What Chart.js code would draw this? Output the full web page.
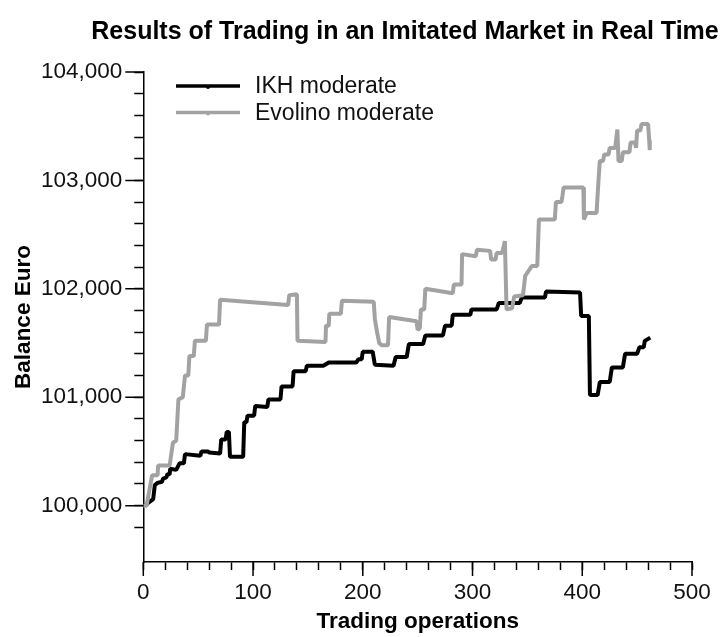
<!DOCTYPE html>
<html>
<head>
<meta charset="utf-8">
<script src="https://cdn.jsdelivr.net/npm/chart.js@4.4.1/dist/chart.umd.min.js"></script>
<style>
  html, body { margin: 0; padding: 0; background: #fff; }
</style>
</head>
<body>
<canvas id="tradingChart" width="724" height="637"></canvas>
<script>
const chartTitle = "Results of Trading in an Imitated Market in Real Time";
const seriesNames = ["IKH moderate", "Evolino moderate"];
const xTickLabels = [0, 100, 200, 300, 400, 500];
const yTickLabels = [100000, 101000, 102000, 103000, 104000];

// IKH moderate: trading operation / balance
const ikhX = [2, 5, 9, 10.5, 13, 17, 18, 21, 22, 24, 24.5, 30, 33, 37, 38, 52, 53, 59, 60, 70,
  71, 75, 76, 78, 79, 91, 92, 94, 95, 101, 102, 113, 114, 125, 126, 136, 137, 148, 149, 164,
  169, 194, 196, 199, 200, 209, 211, 228, 230, 240, 242, 255, 257, 273, 275, 281, 282, 298, 299, 322,
  324, 343, 345, 366, 367, 398, 399, 406, 407, 414, 416, 425, 427, 437, 439, 450, 452, 456, 457, 462];
const ikhY = [100000, 100030, 100060, 100190, 100210, 100220, 100250, 100260, 100290, 100290, 100340, 100330, 100390, 100390, 100475, 100460, 100500, 100500, 100490, 100480,
  100610, 100610, 100680, 100680, 100450, 100450, 100770, 100770, 100830, 100830, 100920, 100910, 100980, 100980, 101100, 101100, 101240, 101240, 101290, 101290,
  101320, 101320, 101350, 101350, 101420, 101420, 101300, 101290, 101370, 101370, 101490, 101490, 101570, 101570, 101660, 101660, 101760, 101760, 101810, 101810,
  101870, 101870, 101920, 101920, 101975, 101965, 101750, 101750, 101020, 101020, 101140, 101140, 101275, 101275, 101400, 101400, 101460, 101460, 101520, 101550];

// Evolino moderate: trading operation / balance
const evoX = [0, 3, 8, 13, 13.5, 24, 27, 30, 32, 36, 38, 41, 42, 46, 47, 57, 58, 69, 70, 132,
  133, 140, 140.5, 166, 166.5, 169, 169.5, 180, 181, 210, 211, 213, 215, 217, 223, 224, 249, 250, 252, 253,
  256, 257, 282, 283, 290, 290.5, 303, 304, 316, 317, 321, 322, 327, 329.5, 331, 336, 338, 346, 348, 354,
  359, 360.5, 375, 376, 381, 382, 383, 401, 401.5, 404, 413, 415, 416, 419, 420, 424, 425, 430, 432, 433,
  436, 437, 443, 444, 448, 449, 450, 453, 454, 460, 461, 461.5];
const evoY = [100000, 100000, 100280, 100280, 100370, 100370, 100580, 100600, 100980, 101000, 101200, 101200, 101380, 101380, 101520, 101520, 101670, 101670, 101900, 101850,
  101940, 101950, 101520, 101510, 101660, 101660, 101770, 101770, 101890, 101880, 101720, 101600, 101500, 101480, 101480, 101740, 101700, 101620, 101640, 101810,
  101810, 102000, 101960, 102040, 102040, 102320, 102300, 102360, 102350, 102270, 102270, 102330, 102330, 102440, 101810, 101820, 101930, 101940, 102120, 102210,
  102210, 102640, 102640, 102800, 102800, 102860, 102935, 102935, 102640, 102700, 102700, 103030, 103180, 103180, 103240, 103240, 103300, 103300, 103470, 103180,
  103180, 103260, 103260, 103350, 103350, 103300, 103460, 103460, 103520, 103520, 103370, 103280];

const ikhColor = "#000000";
const evoColor = "#a2a2a2";
const tickFont = { family: "'Liberation Sans', Arial, sans-serif", size: 22.5 };
const axisTitleFont = { family: "'Liberation Sans', Arial, sans-serif", size: 22.5, weight: "bold" };

function toPoints(xs, ys) {
  return xs.map((x, i) => ({ x: x, y: ys[i] }));
}

// titel, legende en lange hoofdstreepjes
const decorPlugin = {
  id: "decor",
  afterDraw(chart) {
    const ctx = chart.ctx;
    const xs = chart.scales.x;
    const ys = chart.scales.y;
    ctx.save();
    ctx.strokeStyle = "#000";
    ctx.lineWidth = 1.5;
    ctx.beginPath();
    xTickLabels.forEach(v => {
      const px = xs.getPixelForValue(v);
      ctx.moveTo(px, xs.top);
      ctx.lineTo(px, xs.top + 14);
    });
    yTickLabels.forEach(v => {
      const py = ys.getPixelForValue(v);
      ctx.moveTo(ys.right, py);
      ctx.lineTo(ys.right - 18, py);
    });
    ctx.stroke();

    ctx.fillStyle = "#000";
    ctx.font = "bold 25px 'Liberation Sans', Arial, sans-serif";
    ctx.textAlign = "center";
    ctx.textBaseline = "alphabetic";
    ctx.fillText(chartTitle, 405, 39);

    const colors = [ikhColor, evoColor];
    const rows = [86, 112.5];
    ctx.font = "23px 'Liberation Sans', Arial, sans-serif";
    ctx.textAlign = "left";
    ctx.textBaseline = "middle";
    rows.forEach((y, i) => {
      ctx.strokeStyle = colors[i];
      ctx.lineWidth = 3.5;
      ctx.beginPath();
      ctx.moveTo(176, y);
      ctx.lineTo(240, y);
      ctx.stroke();
      ctx.fillStyle = colors[i];
      ctx.beginPath();
      ctx.arc(208, y + 1, 2, 0, Math.PI * 2);
      ctx.fill();
      ctx.fillStyle = "#111";
      ctx.fillText(seriesNames[i], 255, y + 1);
    });
    ctx.restore();
  }
};

new Chart(document.getElementById("tradingChart"), {
  type: "line",
  data: {
    datasets: [
      {
        label: seriesNames[0],
        data: toPoints(ikhX, ikhY),
        borderColor: ikhColor,
        borderWidth: 4,
        pointRadius: 0,
        tension: 0,
        fill: false,
        borderJoinStyle: "bevel",
        order: 2
      },
      {
        label: seriesNames[1],
        data: toPoints(evoX, evoY),
        borderColor: evoColor,
        borderWidth: 4,
        pointRadius: 0,
        tension: 0,
        fill: false,
        borderJoinStyle: "bevel",
        order: 1
      }
    ]
  },
  options: {
    responsive: false,
    animation: false,
    layout: {
      padding: { top: 72, right: 32, left: 10, bottom: 2 }
    },
    plugins: {
      legend: { display: false },
      title: { display: false },
      tooltip: { enabled: false }
    },
    scales: {
      x: {
        type: "linear",
        min: 0,
        max: 500,
        afterFit: scale => { scale.height = 73; },
        grid: { drawOnChartArea: false, tickLength: 8, tickColor: "#000", tickWidth: 1.5 },
        border: { color: "#000", width: 1.5 },
        ticks: {
          stepSize: 20,
          autoSkip: false,
          maxRotation: 0,
          padding: 9,
          color: "#111",
          font: tickFont,
          callback: v => xTickLabels.includes(v) ? String(v) : ""
        },
        title: { display: true, text: "Trading operations", color: "#000", font: axisTitleFont, padding: { top: 0, bottom: 0 } }
      },
      y: {
        min: 99480,
        max: 104000,
        afterFit: scale => { scale.width = 133.3; },
        grid: { drawOnChartArea: false, tickLength: 9, tickColor: "#000", tickWidth: 1.5 },
        border: { color: "#000", width: 1.5 },
        ticks: {
          stepSize: 200,
          autoSkip: false,
          padding: 12,
          color: "#111",
          font: tickFont,
          callback: v => {
            if (v % 200 !== 0) return null;
            return yTickLabels.includes(v) ? v.toLocaleString("en-US") : "";
          }
        },
        title: { display: true, text: "Balance Euro", color: "#000", font: axisTitleFont, padding: { top: 0, bottom: 4 } }
      }
    }
  },
  plugins: [decorPlugin]
});
</script>
</body>
</html>
